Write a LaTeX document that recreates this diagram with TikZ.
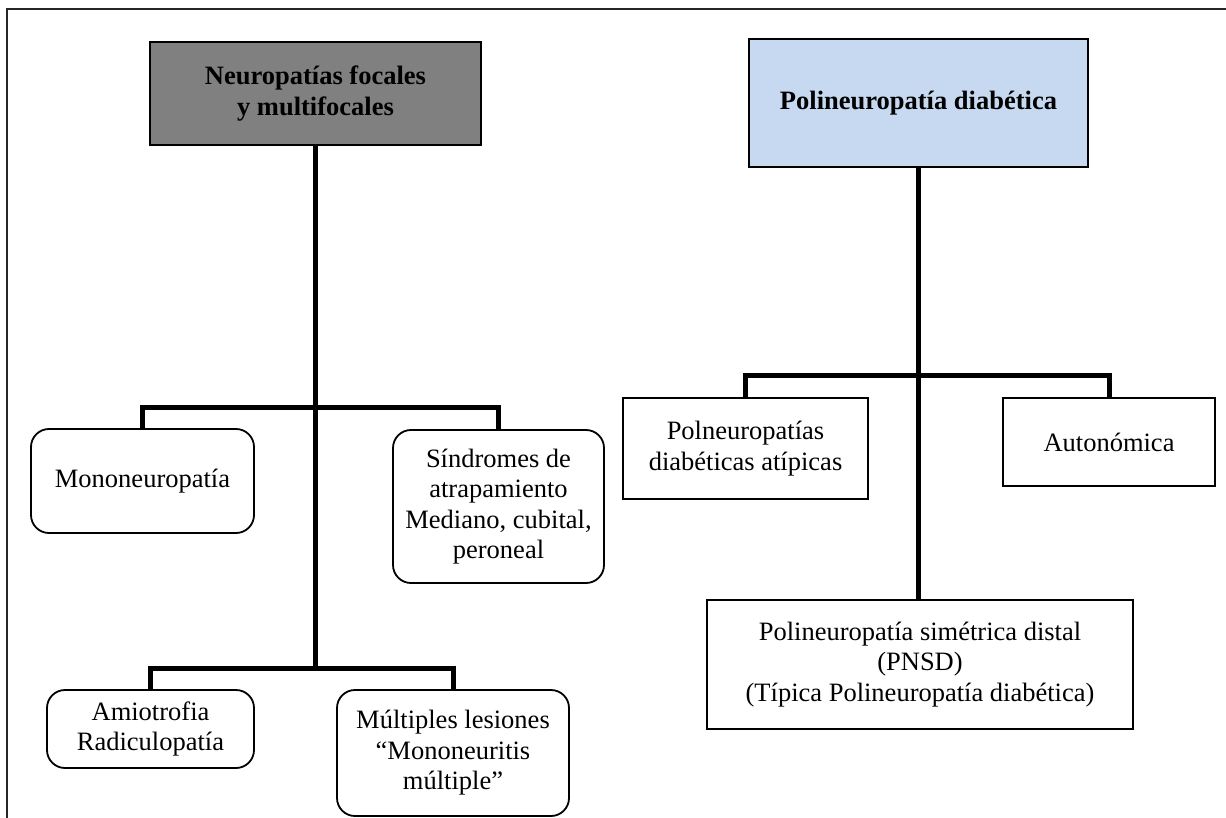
\documentclass[tikz,border=0pt]{standalone}
\usepackage{fontspec}
\setmainfont{Liberation Serif}
\definecolor{headgray}{HTML}{808080}
\definecolor{headblue}{HTML}{C6D9F0}
\begin{document}
\begin{tikzpicture}[x=1pt,y=-1pt,
  box/.style={draw=black, line width=1.8pt, inner sep=0pt, align=center,
              font=\fontsize{26.5}{30.5}\selectfont},
  heading/.style={box, font=\fontsize{26.5}{30.5}\selectfont\bfseries},
  rbox/.style={box, rounded corners=18pt},
  conn/.style={line width=5pt}]
\useasboundingbox (0,0) rectangle (1226,818);
\draw[line width=2pt, black!85] (7,818) -- (7,9) -- (1226,9);

% left tree
\node[heading, fill=headgray, minimum width=331pt, minimum height=103pt] (nf) at (315.5,93.5) {Neuropatías focales\\y multifocales};
\node[rbox, minimum width=223pt, minimum height=104pt] (mono) at (142.5,481) {Mononeuropatía};
\node[rbox, minimum width=211pt, minimum height=153pt] (sind) at (498.5,506.5) {Síndromes de\\atrapamiento\\Mediano, cubital,\\peroneal};
\node[rbox, minimum width=207pt, minimum height=78pt] (amio) at (150.5,729) {Amiotrofia\\Radiculopatía};
\node[rbox, minimum width=232pt, minimum height=126pt] (mult) at (453,753) {Múltiples lesiones\\“Mononeuritis\\múltiple”};

\coordinate (lb1) at (315.5,407);
\coordinate (lb2) at (315.5,668);
\draw[conn] (nf.south) -- (lb2);
\draw[conn] (mono.north) |- (lb1) -| (sind.north);
\draw[conn] (amio.north) |- (lb2) -| (mult.north);

% right tree
\node[heading, fill=headblue, minimum width=339pt, minimum height=128pt] (pd) at (918.5,103) {Polineuropatía diabética};
\node[box, minimum width=245pt, minimum height=101pt] (poly) at (745.5,448.5) {Polneuropatías\\diabéticas atípicas};
\node[box, minimum width=212pt, minimum height=88pt] (auto) at (1109,442) {Autonómica};
\node[box, minimum width=426pt, minimum height=129pt] (pnsd) at (920,664.5) {Polineuropatía simétrica distal\\(PNSD)\\(Típica Polineuropatía diabética)};

\coordinate (rb) at (918.5,375);
\draw[conn] (pd.south) -- (pd.south |- pnsd.north);
\draw[conn] (poly.north) |- (rb) -| (auto.north);
\end{tikzpicture}
\end{document}
